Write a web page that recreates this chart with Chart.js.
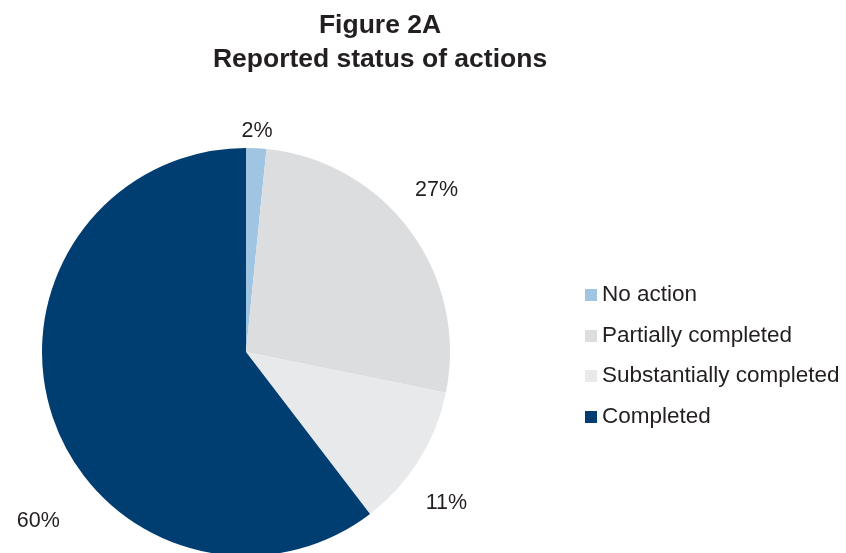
<!DOCTYPE html>
<html>
<head>
<meta charset="utf-8">
<script src="https://cdn.jsdelivr.net/npm/chart.js@4.4.1/dist/chart.umd.min.js"></script>
<style>
  html, body { margin: 0; padding: 0; background: #fff; }
  #wrap { position: relative; width: 846px; height: 553px; overflow: hidden; font-family: "Liberation Sans", Arial, sans-serif; color: #231f20; }
  #titulo { position: absolute; left: 130px; width: 500px; top: 7px; text-align: center; font-weight: bold; font-size: 26.5px; line-height: 34px; }
  #leyenda { position: absolute; left: 585px; top: 280px; font-size: 22.5px; }
  #leyenda div { height: 40.5px; line-height: 28px; white-space: nowrap; }
  #leyenda span { display: inline-block; width: 12px; height: 12px; margin-right: 5px; vertical-align: 0px; }
  canvas { position: absolute; left: 0; top: 0; }
</style>
</head>
<body>
<div id="wrap">
  <canvas id="pastel" width="846" height="600"></canvas>
  <div id="titulo">Figure 2A<br>Reported status of actions</div>
  <div id="leyenda"></div>
</div>
<script>
// datos (porcentajes)
const categorias = ['No action', 'Partially completed', 'Substantially completed', 'Completed'];
const valores = [1.6, 26.6, 11.4, 60.4];
const colores = ['#9fc5e3', '#dcdddf', '#e8e9eb', '#003d71'];

// ajuste de las etiquetas: distancia extra al borde y giro (grados)
const ajusteEtiquetas = [
  { extra: 17, giro: 0 },
  { extra: 46, giro: -4 },
  { extra: 47, giro: 5 },
  { extra: 64, giro: -20.5 }
];

// leyenda en html
const leyenda = document.getElementById('leyenda');
for (let i = 0; i < categorias.length; i++) {
  const fila = document.createElement('div');
  fila.innerHTML = '<span style="background:' + colores[i] + '"></span>' + categorias[i];
  leyenda.appendChild(fila);
}

// plugin que pinta los porcentajes fuera del pastel
const etiquetas = {
  id: 'etiquetas',
  afterDatasetsDraw(chart) {
    const ctx = chart.ctx;
    const arcos = chart.getDatasetMeta(0).data;
    ctx.save();
    ctx.font = '21.5px "Liberation Sans", Arial, sans-serif';
    ctx.fillStyle = '#231f20';
    ctx.textAlign = 'center';
    ctx.textBaseline = 'middle';
    arcos.forEach((arco, i) => {
      const p = arco.getProps(['x', 'y', 'startAngle', 'endAngle', 'outerRadius'], true);
      const medio = (p.startAngle + p.endAngle) / 2 + ajusteEtiquetas[i].giro * Math.PI / 180;
      const r = p.outerRadius + ajusteEtiquetas[i].extra;
      ctx.fillText(Math.round(valores[i]) + '%', p.x + Math.cos(medio) * r, p.y + Math.sin(medio) * r);
    });
    ctx.restore();
  }
};

new Chart(document.getElementById('pastel').getContext('2d'), {
  type: 'pie',
  data: {
    labels: categorias,
    datasets: [{
      data: valores,
      backgroundColor: colores,
      borderWidth: 0
    }]
  },
  options: {
    responsive: false,
    animation: false,
    layout: { padding: { left: 42, right: 396, top: 148, bottom: 44 } },
    plugins: {
      legend: { display: false },
      title: { display: false },
      tooltip: { enabled: false }
    }
  },
  plugins: [etiquetas]
});
</script>
</body>
</html>
